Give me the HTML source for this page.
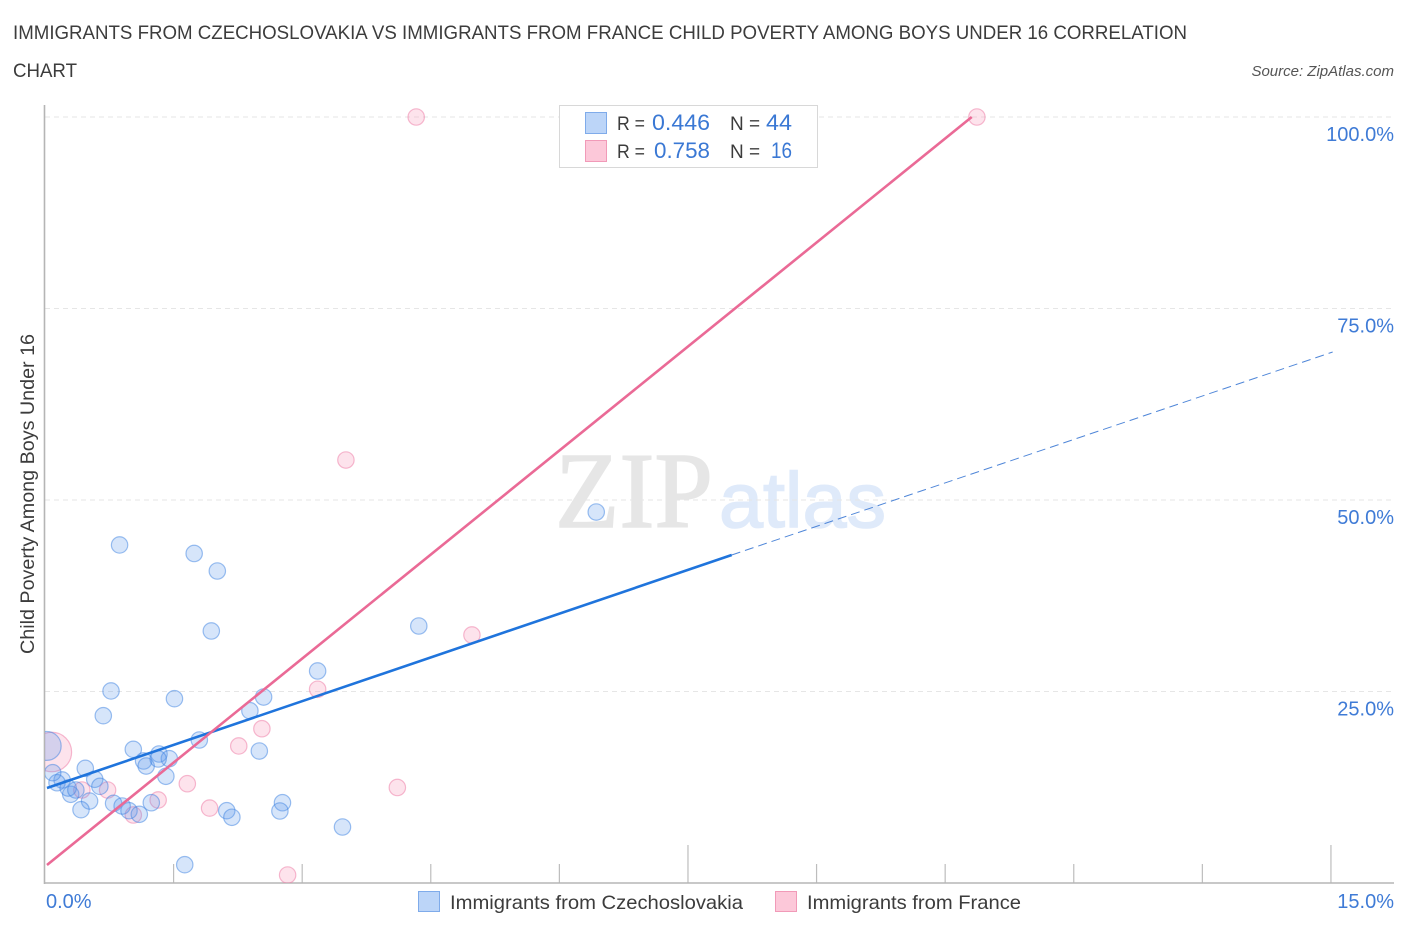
<!DOCTYPE html>
<html>
<head>
<meta charset="utf-8">
<title>Child Poverty Correlation Chart</title>
<style>
html,body{margin:0;padding:0;background:#fff;width:1406px;height:930px;overflow:hidden}
svg{display:block}
text{font-family:"Liberation Sans",sans-serif}
</style>
</head>
<body>
<svg id="chart" width="1406" height="930" viewBox="0 0 1406 930" xmlns="http://www.w3.org/2000/svg">
<defs><clipPath id="plot-clip"><rect x="45" y="95" width="1300" height="788"/></clipPath></defs>
<rect width="1406" height="930" fill="#fff"/>
<text x="13" y="39" font-size="19" fill="#3c3c3c" textLength="1174" lengthAdjust="spacingAndGlyphs">IMMIGRANTS FROM CZECHOSLOVAKIA VS IMMIGRANTS FROM FRANCE CHILD POVERTY AMONG BOYS UNDER 16 CORRELATION</text>
<text x="13" y="77" font-size="19" fill="#3c3c3c" textLength="64" lengthAdjust="spacingAndGlyphs">CHART</text>
<text x="1394" y="76" font-size="15" font-style="italic" fill="#555" text-anchor="end">Source: ZipAtlas.com</text>
<text x="555" y="527" style="font-family:'Liberation Serif',serif" font-size="108" fill="#e6e6e6" stroke="#e6e6e6" stroke-width="1.5" textLength="158" lengthAdjust="spacingAndGlyphs">ZIP</text>
<text x="719" y="527" font-size="78" fill="#dfeafa" stroke="#dfeafa" stroke-width="1.5" textLength="167" lengthAdjust="spacingAndGlyphs">atlas</text>
<g id="grid"></g>
<g id="axes"></g>
<g id="labels"></g>
<text transform="translate(34,494) rotate(-90)" font-size="19" fill="#3c3c3c" text-anchor="middle" textLength="320" lengthAdjust="spacingAndGlyphs">Child Poverty Among Boys Under 16</text>
<g id="marks" clip-path="url(#plot-clip)"></g>
<g>
<rect x="559.5" y="105.5" width="258" height="62" fill="#fff" stroke="#d8d8d8"/>
<rect x="585.5" y="112.5" width="21" height="21" fill="#bcd5f8" stroke="#7fabea"/>
<rect x="585.5" y="140.5" width="21" height="21" fill="#fcc8d9" stroke="#f19ab8"/>
<text x="617" y="130" font-size="19" fill="#3c3c3c" textLength="28" lengthAdjust="spacingAndGlyphs">R =</text>
<text x="652" y="130" font-size="22" fill="#3a78d4" textLength="58" lengthAdjust="spacingAndGlyphs">0.446</text>
<text x="730" y="130" font-size="19" fill="#3c3c3c">N =</text>
<text x="766" y="130" font-size="22" fill="#3a78d4" textLength="26" lengthAdjust="spacingAndGlyphs">44</text>
<text x="617" y="158" font-size="19" fill="#3c3c3c" textLength="28" lengthAdjust="spacingAndGlyphs">R =</text>
<text x="654" y="158" font-size="22" fill="#3a78d4" textLength="56" lengthAdjust="spacingAndGlyphs">0.758</text>
<text x="730" y="158" font-size="19" fill="#3c3c3c">N =</text>
<text x="771" y="158" font-size="22" fill="#3a78d4" textLength="21" lengthAdjust="spacingAndGlyphs">16</text>
</g>
<g>
<rect x="418.5" y="891.5" width="21" height="20" fill="#bcd5f8" stroke="#7fabea"/>
<text x="450" y="909" font-size="19.5" fill="#3c3c3c" textLength="293" lengthAdjust="spacingAndGlyphs">Immigrants from Czechoslovakia</text>
<rect x="775.5" y="891.5" width="21" height="20" fill="#fcc8d9" stroke="#f19ab8"/>
<text x="807" y="909" font-size="19.5" fill="#3c3c3c" textLength="214" lengthAdjust="spacingAndGlyphs">Immigrants from France</text>
</g>
</svg>
<script>
var yTicks = [0, 25, 50, 75, 100];
var yTickLabels = ["25.0%", "50.0%", "75.0%", "100.0%"];
var yLabelValues = [25, 50, 75, 100];
var xTicks = [0, 1.5, 3, 4.5, 6, 7.5, 9, 10.5, 12, 13.5, 15];
var xMajorTicks = [7.5, 15];
var xEndLabels = ["0.0%", "15.0%"];
var xEndValues = [0, 15];

var blueX = [0.77,1.51,0.68,3.18,2.55,2.39,1.80,2.50,1.03,1.33,1.45,1.15,1.18,1.32,1.41,0.47,0.58,0.64,0.20,0.14,0.02,0.30,0.27,0.36,0.52,0.42,0.80,0.90,0.98,1.10,1.24,2.12,2.18,2.77,2.74,3.47,1.63,6.43,4.36,0.87,1.74,2.01,1.94,0.09];
var blueY = [25.07,24.06,21.84,27.68,24.28,22.49,18.67,17.23,17.45,16.84,16.23,15.93,15.27,16.19,13.93,14.97,13.54,12.62,13.45,13.09,17.89,11.58,12.40,12.14,10.70,9.57,10.40,10.05,9.44,8.97,10.48,9.44,8.58,10.48,9.40,7.31,2.39,48.43,33.55,44.13,43.02,40.73,32.90,14.40];
var blueWeight = [1,1,1,1,1,1,1,1,1,1,1,1,1,1,1,1,1,1,1,1,3.1,1,1,1,1,1,1,1,1,1,1,1,1,1,1,1,1,1,1,1,1,1,1,1];

var pinkX = [4.33,10.87,3.51,4.98,3.18,2.53,2.26,1.66,4.11,1.92,1.32,0.73,0.43,1.03,2.83,0.08];
var pinkY = [100,100,55.22,32.38,25.29,20.14,17.89,12.96,12.47,9.78,10.84,12.14,12.14,8.88,1.04,17.10];
var pinkWeight = [1,1,1,1,1,1,1,1,1,1,1,1,1,1,1,5.8];

var blueTrendX = [0.023, 8.01];
var blueTrendY = [12.4, 42.82];
var blueForecastX = [8.01, 15.02];
var blueForecastY = [42.82, 69.32];
var pinkTrendX = [0.023, 10.81];
var pinkTrendY = [2.35, 100];

var NS = "http://www.w3.org/2000/svg";
function xScale(v) { return 45 + v * 85.73; }
function yScale(v) { return 883 - v * 7.66; }
function make(parent, tag, attrs, text) {
  var el = document.createElementNS(NS, tag);
  for (var k in attrs) el.setAttribute(k, attrs[k]);
  if (text !== undefined) el.textContent = text;
  parent.appendChild(el);
  return el;
}
var gridG = document.getElementById("grid");
var axesG = document.getElementById("axes");
var labelsG = document.getElementById("labels");
var marksG = document.getElementById("marks");

yTicks.slice(1).forEach(function (t) {
  var el = make(gridG, "line", {x1: 45, x2: 1394, y1: yScale(t), y2: yScale(t), stroke: "#e6e6e6", "stroke-width": 1, "stroke-dasharray": "5 4"});
  
  
});
xTicks.slice(1).forEach(function (t) {
  var major = xMajorTicks.indexOf(t) >= 0;
  var el = make(axesG, "line", {x1: xScale(t), x2: xScale(t), y1: major ? 845 : 864, y2: 883, stroke: "#bdbdbd", "stroke-width": 1.2});
  
  
});
var yAxis = make(axesG, "line", {x1: 44.5, x2: 44.5, y1: 105, y2: 884, stroke: "#b5b5b5", "stroke-width": 1.6});


var xAxis = make(axesG, "line", {x1: 44, x2: 1394, y1: 883, y2: 883, stroke: "#b5b5b5", "stroke-width": 1.6});



yLabelValues.forEach(function (t, i) {
  var el = make(labelsG, "text", {x: 1394, y: yScale(t) + 24, "font-size": 20, fill: "#3f7bd6", "text-anchor": "end"}, yTickLabels[i]);
  
  
});
xEndValues.forEach(function (t, i) {
  var el = make(labelsG, "text", {x: i === 0 ? 46 : 1394, y: 908, "font-size": 20, fill: "#3f7bd6", "text-anchor": i === 0 ? "start" : "end"}, xEndLabels[i]);
  
  
});

function drawPoints(xs, ys, ws, fill, stroke, name) {
  xs.forEach(function (v, i) {
    var c = make(marksG, "circle", {cx: xScale(v), cy: yScale(ys[i]), r: 8.2 * Math.sqrt(ws[i]), fill: fill, stroke: stroke, "stroke-width": 1.2});
    
    
  });
}
drawPoints(pinkX, pinkY, pinkWeight, "rgba(246,150,185,0.27)", "rgba(238,130,170,0.55)", "point-france");
drawPoints(blueX, blueY, blueWeight, "rgba(90,150,235,0.25)", "rgba(60,130,225,0.5)", "point-czechoslovakia");

var forecast = make(marksG, "line", {x1: xScale(blueForecastX[0]), y1: yScale(blueForecastY[0]), x2: xScale(blueForecastX[1]), y2: yScale(blueForecastY[1]), stroke: "#4f86d8", "stroke-width": 1, "stroke-dasharray": "9 5"});


var blueTrend = make(marksG, "line", {x1: xScale(blueTrendX[0]), y1: yScale(blueTrendY[0]), x2: xScale(blueTrendX[1]), y2: yScale(blueTrendY[1]), stroke: "#1f74dc", "stroke-width": 2.6});


var pinkTrend = make(marksG, "line", {x1: xScale(pinkTrendX[0]), y1: yScale(pinkTrendY[0]), x2: xScale(pinkTrendX[1]), y2: yScale(pinkTrendY[1]), stroke: "#ea6a96", "stroke-width": 2.6});


</script>
</body>
</html>
